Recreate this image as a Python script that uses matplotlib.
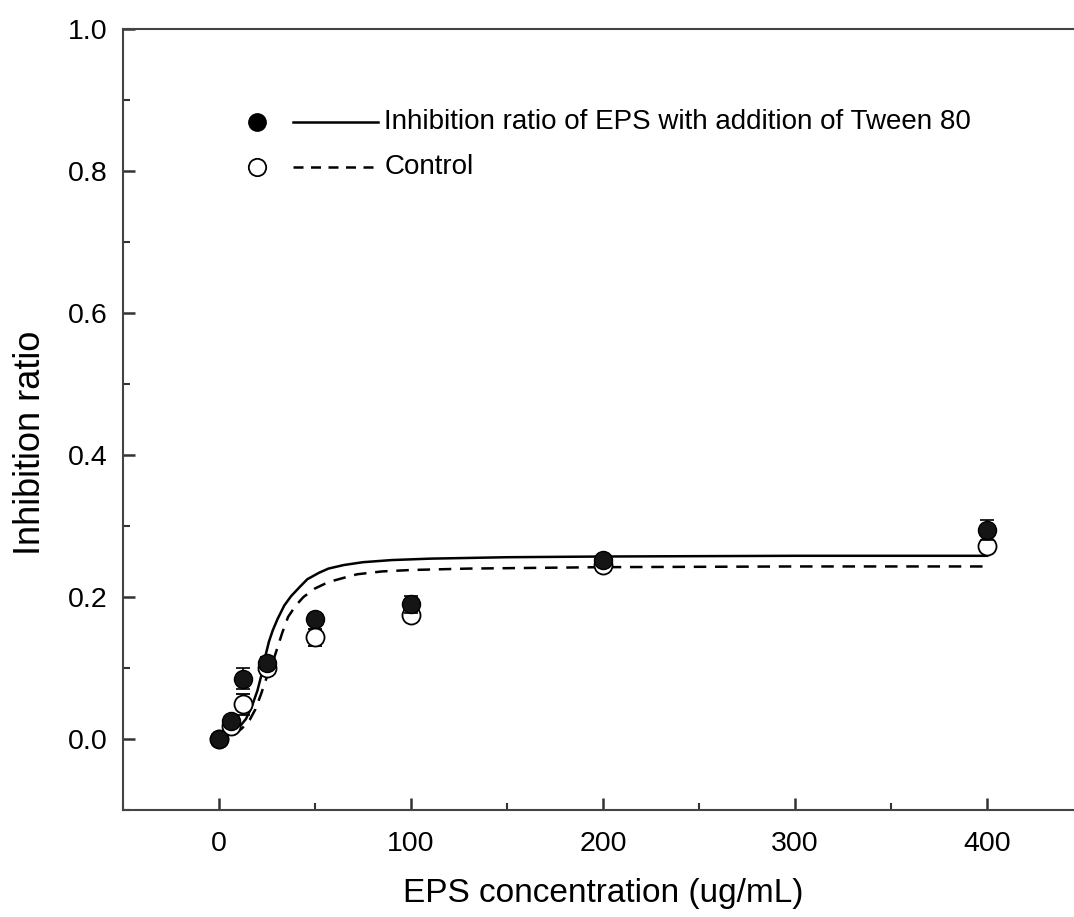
import matplotlib.pyplot as plt
from matplotlib.ticker import MultipleLocator

plt.rcParams['font.family'] = ['Liberation Sans', 'DejaVu Sans']

# Measured points
conc = [0, 6.25, 12.5, 25, 50, 100, 200, 400]
tween = [0.0, 0.025, 0.085, 0.107, 0.169, 0.190, 0.252, 0.294]
tween_err = [0.0, 0.004, 0.015, 0.008, 0.006, 0.012, 0.005, 0.014]
control = [0.0, 0.018, 0.049, 0.100, 0.143, 0.175, 0.245, 0.272]
control_err = [0.0, 0.004, 0.015, 0.006, 0.012, 0.007, 0.006, 0.007]

# Fitted curves
fit_x = [6, 10, 14, 17, 20, 22, 24, 26, 28, 30.5, 34, 37.5, 42, 46, 52, 57,
         65, 75, 90, 110, 150, 200, 300, 400]
fit_tween = [0.008, 0.015, 0.028, 0.045, 0.068, 0.089, 0.115, 0.137, 0.153,
             0.169, 0.188, 0.201, 0.214, 0.225, 0.234, 0.240, 0.245, 0.249,
             0.252, 0.254, 0.256, 0.257, 0.258, 0.258]
fit_cx = [8, 12, 16, 19, 22, 25, 28, 30, 33, 36, 40, 44, 50, 57, 65, 72, 85,
          100, 130, 200, 300, 400]
fit_control = [0.006, 0.015, 0.027, 0.042, 0.064, 0.088, 0.108, 0.125, 0.150,
               0.172, 0.188, 0.200, 0.212, 0.221, 0.227, 0.232, 0.236, 0.238,
               0.240, 0.242, 0.243, 0.243]

fig = plt.figure(figsize=(10.74, 9.17), dpi=100)
ax = fig.add_axes([0.1145, 0.1167, 0.894, 0.8517])

ax.plot(fit_x, fit_tween, color='black', linewidth=1.8, zorder=2)
ax.plot(fit_cx, fit_control, color='black', linewidth=1.8,
        linestyle=(0, (5, 3.5)), zorder=2)

ax.errorbar(conc, control, yerr=control_err, fmt='o', markersize=13,
            markerfacecolor='white', markeredgecolor='black', markeredgewidth=1.3,
            ecolor='black', elinewidth=1.2, capsize=5, capthick=1.2, zorder=3)
ax.errorbar(conc, tween, yerr=tween_err, fmt='o', markersize=13,
            markerfacecolor='#151515', markeredgecolor='black',
            ecolor='black', elinewidth=1.2, capsize=5, capthick=1.2, zorder=4)

ax.set_xlim(-50, 450)
ax.set_ylim(-0.1, 1.0)
ax.xaxis.set_major_locator(MultipleLocator(100))
ax.xaxis.set_minor_locator(MultipleLocator(50))
ax.yaxis.set_major_locator(MultipleLocator(0.2))
ax.yaxis.set_minor_locator(MultipleLocator(0.1))
ax.yaxis.set_major_formatter(plt.FuncFormatter(lambda v, p: f'{v:.1f}'))

ax.tick_params(which='both', direction='in', color='#333333')
ax.tick_params(which='major', length=8.5, width=1.8, labelsize=20.5)
ax.tick_params(axis='x', which='major', pad=15)
ax.tick_params(axis='y', which='major', pad=11)
ax.tick_params(which='minor', length=5, width=1.5)
for side in ['left', 'bottom', 'top']:
    ax.spines[side].set_linewidth(1.5)
    ax.spines[side].set_color('#444444')
ax.spines['right'].set_visible(False)

ax.set_xlabel('EPS concentration (ug/mL)', fontsize=24, va='center')
ax.xaxis.set_label_coords(0.5, -0.107)
ax.set_ylabel('Inhibition ratio', fontsize=26, va='center')
ax.yaxis.set_label_coords(-0.096, 0.47)

# Legend drawn by hand: marker, line sample, then text
t = ax.transAxes
ax.plot([0.1396], [0.881], 'o', markersize=12.5, color='black', transform=t,
        clip_on=False)
ax.plot([0.1396], [0.823], 'o', markersize=12.5, markerfacecolor='white',
        markeredgecolor='black', markeredgewidth=1.3, transform=t, clip_on=False)
ax.plot([0.177, 0.266], [0.881, 0.881], color='black', linewidth=1.8, transform=t)
ax.plot([0.177, 0.266], [0.823, 0.823], color='black', linewidth=1.8,
        linestyle=(0, (4, 3)), transform=t)
ax.text(0.272, 0.881, 'Inhibition ratio of EPS with addition of Tween 80',
        fontsize=20, va='center', transform=t)
ax.text(0.272, 0.823, 'Control', fontsize=20, va='center', transform=t)

fig.savefig('out.png', dpi=100)
